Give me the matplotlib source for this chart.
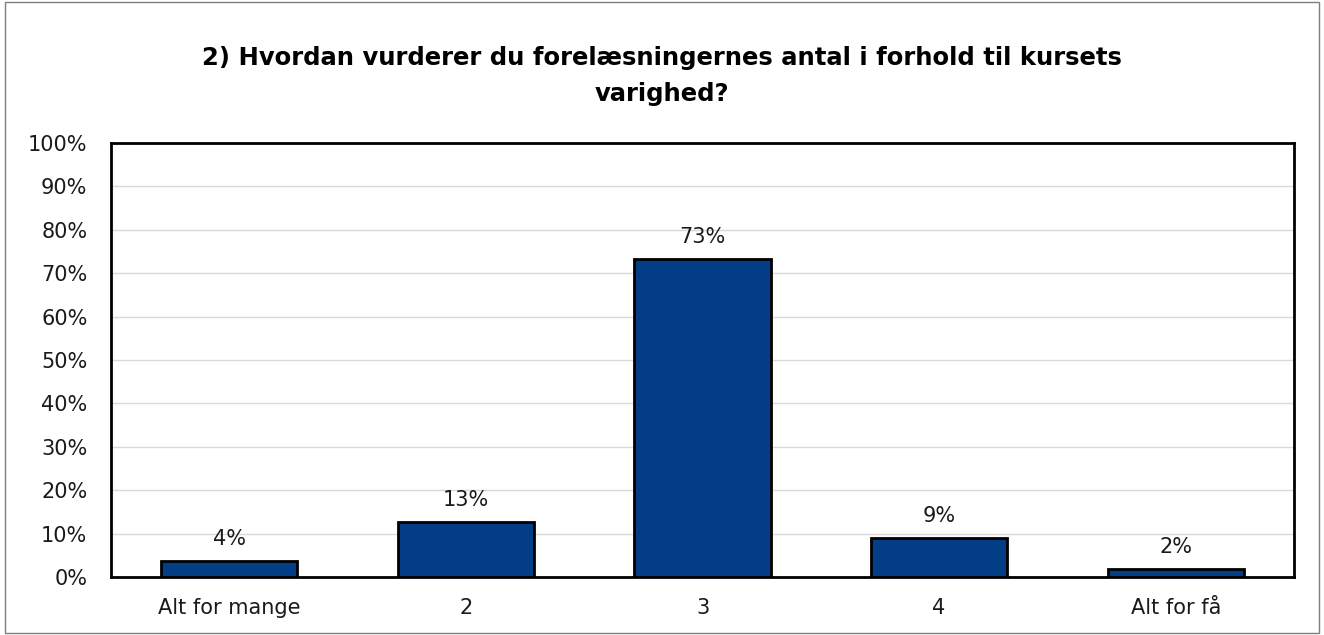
import matplotlib.pyplot as plt
from matplotlib.patches import Rectangle

# survey answers, share of respondents
categories = ['Alt for mange', '2', '3', '4', 'Alt for få']
values = [3.7, 12.6, 73.2, 8.9, 1.8]
labels = ['4%', '13%', '73%', '9%', '2%']
yticks = list(range(0, 101, 10))

plt.rcParams['font.family'] = ['DejaVu Sans']

fig = plt.figure(figsize=(13.24, 6.35), dpi=100)
ax = fig.add_axes([111 / 1324, 1 - 577 / 635, (1294 - 111) / 1324, (577 - 143) / 635])

# thin frame round the whole chart
fig.patches.append(Rectangle((0.004, 0.003), 0.992, 0.994, transform=fig.transFigure,
                             fill=False, edgecolor='#7f7f7f', linewidth=1))

x = range(len(categories))
bars = ax.bar(x, values, width=0.575, color='#033d85', edgecolor='black', linewidth=2, zorder=3)

for bar, lab in zip(bars, labels):
    ax.text(bar.get_x() + bar.get_width() / 2, bar.get_height() + 2.8, lab,
            ha='center', va='bottom', fontsize=15, color='#1a1a1a')

ax.set_xlim(-0.5, len(categories) - 0.5)
ax.set_ylim(0, 100)
ax.set_yticks(yticks)
ax.set_yticklabels([f'{t}%' for t in yticks], fontsize=15, color='#1a1a1a')
ax.set_xticks(list(x))
ax.set_xticklabels(categories, fontsize=15, color='#1a1a1a')
ax.tick_params(axis='both', length=0)
ax.tick_params(axis='x', pad=15)
ax.tick_params(axis='y', pad=17)
ax.grid(axis='y', color='#d9d9d9', linewidth=1, zorder=0)
for s in ax.spines.values():
    s.set_linewidth(2)
    s.set_color('black')

fig.text(0.5, 1 - 76 / 635, '2) Hvordan vurderer du forelæsningernes antal i forhold til kursets\nvarighed?',
         ha='center', va='center', fontsize=17.5, fontweight='bold', linespacing=1.6)

fig.savefig('out.png', dpi=100)
